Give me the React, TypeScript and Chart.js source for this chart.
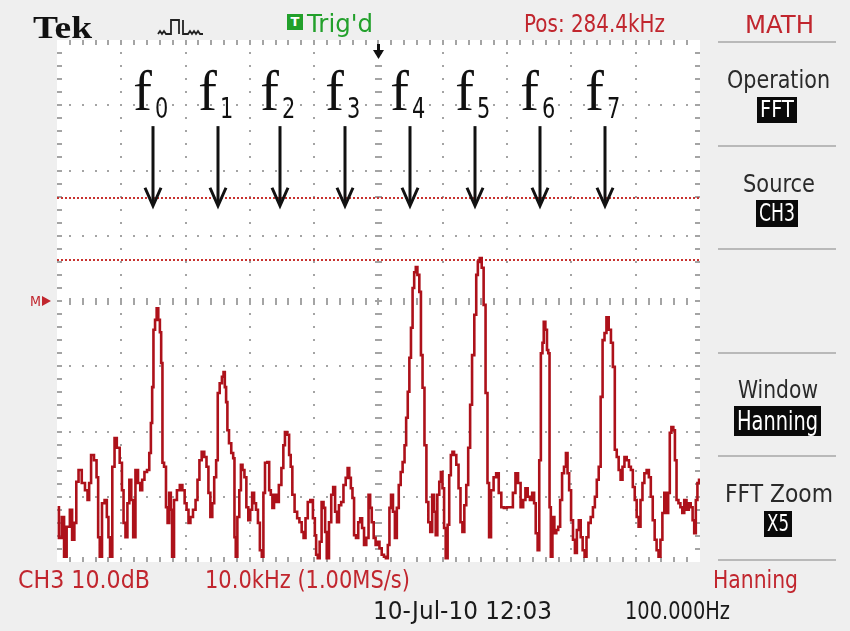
import React, { useEffect, useLayoutEffect, useRef } from 'react';
import { Chart, registerables } from 'chart.js';

Chart.register(...registerables);

// ---- display settings (Tek FFT screen) ----
const SPAN_START_KHZ = 234.4;
const KHZ_PER_DIV = 10;
const H_DIVS = 10;
const DB_PER_DIV = 10;
const V_DIVS = 8;
const MINOR_PER_DIV = 5;
const REF_DB = 0; // "M" reference level
const CENTER_KHZ = 284.4;

// ---- FFT trace: frequency (kHz) and level (dB rel. M) ----
const FREQ_KHZ = [
  234.5, 234.9, 235.4, 235.6, 236.2, 236.6, 236.9, 237.3, 237.5, 238.0,
  238.5, 239.0, 239.3, 239.5, 239.9, 240.4, 240.7, 240.9, 241.2, 241.6,
  242.0, 242.3, 242.5, 242.8, 243.2, 243.5, 243.9, 244.4, 244.6, 244.9,
  245.2, 245.5, 245.8, 246.1, 246.4, 246.8, 247.2, 247.5, 247.8, 248.2,
  248.6, 248.9, 249.1, 249.3, 249.5, 249.8, 250.0, 250.3, 250.5, 250.7,
  250.9, 251.2, 251.5, 251.7, 252.0, 252.2, 252.4, 252.8, 253.3, 253.7,
  254.1, 254.4, 254.7, 255.0, 255.3, 255.8, 256.1, 256.4, 256.7, 257.1,
  257.5, 257.8, 258.1, 258.4, 258.7, 259.0, 259.3, 259.5, 259.9, 260.2,
  260.4, 260.6, 260.8, 261.0, 261.3, 261.7, 261.9, 262.1, 262.3, 262.6,
  262.9, 263.1, 263.4, 263.7, 264.0, 264.3, 264.6, 264.9, 265.2, 265.5,
  265.8, 266.1, 266.4, 266.6, 266.9, 267.3, 267.5,
  267.8, 268.0, 268.3, 268.7, 269.1, 269.5, 269.7, 270.0, 270.4, 270.6,
  270.9, 271.1, 271.6, 271.9, 272.3, 272.6, 272.9, 273.2, 273.6, 274.0,
  274.4, 274.6, 274.8, 275.1, 275.4, 275.7, 276.0, 276.2, 276.5, 276.9,
  277.2, 277.5, 277.8, 278.1, 278.4, 278.8, 279.1, 279.5, 279.7, 280.0,
  280.2, 280.5, 280.7, 281.1, 281.4, 281.7, 282.0, 282.3, 282.7, 283.0,
  283.2, 283.5, 283.8, 284.1, 284.4, 284.7, 285.1, 285.4, 285.7, 286.0,
  286.2, 286.5, 286.8, 287.1, 287.4, 287.7, 288.0, 288.3, 288.6, 288.8,
  289.1, 289.3, 289.6, 289.8, 290.1, 290.3, 290.6, 290.9, 291.1, 291.4,
  291.7, 292.0, 292.3, 292.6, 292.9, 293.2, 293.4, 293.7, 294.0, 294.2,
  294.5, 294.7, 295.0, 295.3, 295.5, 295.8, 296.0, 296.3, 296.7, 297.0,
  297.3, 297.6, 297.9, 298.2, 298.5, 298.8, 299.1, 299.5, 299.7, 300.0,
  300.3, 300.6, 300.9,
  301.2, 301.5, 301.7, 302.1, 302.5, 302.9, 303.3, 303.7, 304.1, 304.6,
  305.1, 305.5, 305.9, 306.3, 306.7, 307.1, 307.4, 307.8, 308.1, 308.5,
  308.7, 309.0, 309.3, 309.5, 309.8, 310.0, 310.2, 310.5, 310.7, 310.9,
  311.1, 311.3, 311.6, 311.9, 312.2, 312.5, 312.8, 313.1, 313.4, 313.7,
  313.9, 314.2, 314.5, 314.8, 315.1, 315.4, 315.7, 316.0, 316.3, 316.6,
  316.9, 317.2, 317.6, 317.9, 318.2, 318.5, 318.8, 319.1, 319.4, 319.7,
  320.0, 320.4, 320.7, 321.0, 321.3, 321.6, 321.9, 322.2, 322.5, 322.8,
  323.2, 323.5, 323.8, 324.1, 324.4, 324.7, 325.0, 325.3, 325.6, 325.9,
  326.3, 326.6, 326.9, 327.2, 327.5, 327.8, 328.1, 328.4, 328.7, 329.0,
  329.3, 329.6, 329.8, 330.1, 330.4, 330.6, 330.9, 331.2, 331.5, 331.8,
  332.1, 332.5, 332.8, 333.1, 333.4, 333.6, 333.9, 334.1, 334.4,
];

const LEVEL_DB = [
  -31.6, -36.3, -33.1, -39.2, -34.6, -32.0, -36.6, -34.0, -27.7, -25.9,
  -27.9, -29.0, -30.5, -27.9, -23.6, -24.4, -27.0, -36.2, -39.2, -31.0,
  -30.5, -33.1, -36.2, -39.2, -25.4, -21.0, -22.5, -24.8, -29.0, -34.0,
  -36.2, -31.0, -27.4, -30.5, -36.2, -25.9, -27.9, -29.0, -27.4, -26.2,
  -25.9, -23.3, -18.7, -13.2, -4.4, -2.9, -1.1, -2.9, -4.8, -9.5,
  -24.8, -25.4, -31.6, -34.0, -29.4, -32.0, -39.2, -30.5, -29.0, -28.2,
  -29.0, -31.0, -32.0, -34.0, -33.1, -32.0, -30.5, -27.4, -24.4, -23.1,
  -23.9, -25.4, -29.4, -33.1, -31.0, -27.0, -24.4, -14.1, -12.6, -11.6,
  -10.9, -13.2, -15.5, -19.8, -21.8, -23.3, -24.1, -36.2, -39.2, -33.1,
  -29.0, -25.1, -25.9, -27.0, -31.6, -33.6, -32.0, -29.4, -31.0, -32.0,
  -34.0, -38.2, -39.2, -29.4, -24.8, -24.7, -29.0,
  -29.7, -31.7, -29.7, -30.8, -28.2, -25.6, -22.1, -20.1, -20.5, -23.6,
  -25.4, -29.7, -32.3, -33.3, -33.9, -35.4, -36.3, -33.3, -30.8, -30.5,
  -33.3, -35.9, -38.9, -39.4, -36.9, -30.8, -31.7, -35.4, -39.4, -33.9,
  -29.7, -28.5, -32.3, -33.9, -31.3, -30.8, -28.2, -27.1, -25.6, -27.1,
  -28.7, -30.2, -35.9, -36.3, -33.9, -33.3, -34.8, -37.4, -36.3, -29.7,
  -31.7, -33.9, -36.3, -37.4, -36.9, -37.9, -38.9, -39.2, -39.4, -37.4,
  -31.7, -29.7, -32.3, -36.3, -31.7, -28.2, -26.2, -24.7, -22.1, -17.9,
  -13.9, -8.7, -4.1, 2.0, 4.4, 5.2, 4.0, 1.4, -8.3, -13.3,
  -22.1, -30.8, -33.9, -35.4, -29.7, -32.3, -35.9, -29.7, -27.7, -26.2,
  -28.7, -34.8, -39.4, -34.3, -26.7, -23.6, -23.1, -23.6, -25.1, -28.7,
  -33.9, -35.4, -31.3, -28.2, -22.5, -15.9, -8.3, -2.1, 4.0, 6.0,
  6.6, 5.1, -0.6,
  -14.1, -27.9, -36.2, -29.0, -27.0, -26.4, -29.4, -31.6, -31.7, -31.6,
  -31.6, -29.4, -26.4, -27.9, -31.6, -30.5, -28.7, -30.0, -30.5, -29.4,
  -31.0, -35.6, -38.2, -24.4, -8.0, -6.4, -3.2, -4.4, -7.5, -8.0,
  -31.6, -39.2, -33.1, -35.6, -35.1, -34.6, -30.5, -26.4, -25.4, -23.3,
  -26.4, -29.0, -33.6, -36.6, -38.6, -35.1, -33.6, -36.2, -38.2, -39.2,
  -36.2, -34.0, -33.1, -31.6, -30.0, -27.4, -25.4, -14.7, -6.0, -4.9,
  -2.5, -4.4, -6.4, -10.1, -22.8, -23.9, -25.9, -27.4, -25.4, -23.9,
  -24.4, -25.4, -25.9, -28.5, -30.5, -33.1, -34.6, -30.5, -27.9, -26.4,
  -25.9, -27.0, -30.0, -33.6, -36.6, -38.2, -39.2, -36.6, -32.5, -29.4,
  -32.5, -29.4, -20.2, -19.3, -19.8, -24.4, -30.5, -31.0, -31.6, -32.5,
  -30.5, -32.0, -31.0, -31.6, -33.6, -35.6, -30.5, -27.9, -27.4,
];

// ---- annotations ----
const MARKER_KHZ = [249.3, 259.4, 269.1, 279.2, 289.3, 299.4, 309.5, 319.6];
const MARKER_SUBS = ['0', '1', '2', '3', '4', '5', '6', '7'];
const LABEL_BASE_DB = 29.3;
const ARROW_TOP_DB = 26.8;
const ARROW_TIP_DB = 14.6;
const CURSOR_DB = [15.8, 6.3];

const TRACE = '#ad111a';
const RED = '#c1262e';
const GREEN = '#22a02b';
const INK = '#2a2a2a';
const SANS = '"DejaVu Sans", "Liberation Sans", sans-serif';
const SERIF = '"Liberation Serif", "DejaVu Serif", serif';

const scopePlugin = {
  id: 'scope',
  beforeDatasetsDraw(chart: any) {
    const { ctx, chartArea: a } = chart;
    const xs = chart.scales.x;
    const ys = chart.scales.y;
    const xMin = xs.min;
    const yMin = ys.min;
    const xMinor = KHZ_PER_DIV / MINOR_PER_DIV;
    const yMinor = DB_PER_DIV / MINOR_PER_DIV;
    ctx.save();
    ctx.fillStyle = '#ffffff';
    ctx.fillRect(a.left, a.top, a.right - a.left, a.bottom - a.top);
    ctx.fillStyle = '#a4a4a4';
    for (let i = 1; i < H_DIVS; i++) {
      const px = Math.round(xs.getPixelForValue(xMin + i * KHZ_PER_DIV));
      for (let j = 1; j < V_DIVS * MINOR_PER_DIV; j++) {
        const py = Math.round(ys.getPixelForValue(yMin + j * yMinor));
        if (i === H_DIVS / 2) ctx.fillRect(px - 3, py - 1, 7, 2);
        else ctx.fillRect(px - 1, py - 1, 2, 2);
      }
    }
    for (let j = 1; j < V_DIVS; j++) {
      const py = Math.round(ys.getPixelForValue(yMin + j * DB_PER_DIV));
      for (let i = 1; i < H_DIVS * MINOR_PER_DIV; i++) {
        const px = Math.round(xs.getPixelForValue(xMin + i * xMinor));
        if (j === V_DIVS / 2) ctx.fillRect(px - 1, py - 3, 2, 7);
        else ctx.fillRect(px - 1, py - 1, 2, 2);
      }
    }
    for (let j = 1; j < V_DIVS * MINOR_PER_DIV; j++) {
      const py = Math.round(ys.getPixelForValue(yMin + j * yMinor));
      ctx.fillRect(a.left, py - 1, 5, 2);
      ctx.fillRect(a.right - 5, py - 1, 5, 2);
    }
    for (let i = 1; i < H_DIVS * MINOR_PER_DIV; i++) {
      const px = Math.round(xs.getPixelForValue(xMin + i * xMinor));
      ctx.fillRect(px - 1, a.top, 2, 5);
      ctx.fillRect(px - 1, a.bottom - 5, 2, 5);
    }
    ctx.strokeStyle = '#c8322f';
    ctx.lineWidth = 2;
    ctx.setLineDash([2, 2]);
    for (const c of CURSOR_DB) {
      const py = Math.round(ys.getPixelForValue(c));
      ctx.beginPath();
      ctx.moveTo(a.left, py);
      ctx.lineTo(a.right, py);
      ctx.stroke();
    }
    ctx.restore();
  },
  afterDatasetsDraw(chart: any) {
    const { ctx, chartArea: a } = chart;
    const xs = chart.scales.x;
    const ys = chart.scales.y;
    ctx.save();
    const cx = Math.round(xs.getPixelForValue(CENTER_KHZ));
    ctx.fillStyle = '#111';
    ctx.fillRect(cx - 1, a.top + 4, 3, 8);
    ctx.beginPath();
    ctx.moveTo(cx - 5, a.top + 10);
    ctx.lineTo(cx + 6, a.top + 10);
    ctx.lineTo(cx + 0.5, a.top + 19);
    ctx.closePath();
    ctx.fill();
    const my = ys.getPixelForValue(REF_DB);
    ctx.fillStyle = RED;
    ctx.beginPath();
    ctx.moveTo(a.left - 15, my - 5);
    ctx.lineTo(a.left - 6, my);
    ctx.lineTo(a.left - 15, my + 5);
    ctx.closePath();
    ctx.fill();
    const base = ys.getPixelForValue(LABEL_BASE_DB);
    const top = ys.getPixelForValue(ARROW_TOP_DB);
    const tip = ys.getPixelForValue(ARROW_TIP_DB);
    ctx.fillStyle = '#111';
    ctx.strokeStyle = '#111';
    ctx.lineWidth = 3;
    ctx.setLineDash([]);
    MARKER_KHZ.forEach((f, k) => {
      const px = Math.round(xs.getPixelForValue(f));
      ctx.font = `56px ${SERIF}`;
      ctx.textAlign = 'right';
      ctx.textBaseline = 'alphabetic';
      ctx.fillText('f', px - 1, base);
      ctx.save();
      ctx.translate(px + 2, base + 8);
      ctx.scale(0.72, 1);
      ctx.font = `29px ${SANS}`;
      ctx.textAlign = 'left';
      ctx.fillText(MARKER_SUBS[k], 0, 0);
      ctx.restore();
      ctx.beginPath();
      ctx.moveTo(px, top);
      ctx.lineTo(px, tip - 2);
      ctx.stroke();
      ctx.beginPath();
      ctx.moveTo(px - 8, tip - 18);
      ctx.lineTo(px, tip);
      ctx.lineTo(px + 8, tip - 18);
      ctx.stroke();
    });
    ctx.restore();
  },
};

type FitProps = {
  x0: number;
  x1: number;
  base: number;
  size: number;
  color: string;
  children: React.ReactNode;
  family?: string;
  weight?: number;
};

// text squeezed/stretched to span [x0, x1] with its baseline at `base`
function Fit({ x0, x1, base, size, color, children, family = SANS, weight = 400 }: FitProps) {
  const ref = useRef<HTMLSpanElement>(null);
  useLayoutEffect(() => {
    const el = ref.current;
    if (!el) return;
    el.style.transform = 'none';
    const w = el.getBoundingClientRect().width;
    if (w > 0) el.style.transform = `scaleX(${(x1 - x0) / w})`;
  }, [x0, x1]);
  const k = family === SERIF ? 0.8375 : 0.846;
  return (
    <span
      ref={ref}
      style={{
        position: 'absolute',
        left: x0,
        top: base - k * size,
        fontSize: size,
        lineHeight: `${size}px`,
        color,
        fontFamily: family,
        fontWeight: weight,
        whiteSpace: 'nowrap',
        transformOrigin: 'left',
      }}
    >
      {children}
    </span>
  );
}

function InvBox({ x, y, w, h, children }: { x: number; y: number; w: number; h: number; children: React.ReactNode }) {
  return (
    <div style={{ position: 'absolute', left: x, top: y, width: w, height: h, background: '#0a0a0a' }}>
      <Fit x0={3} x1={w - 3} base={h - 6} size={h - 3} color="#ffffff">{children}</Fit>
    </div>
  );
}

const SEPARATORS = [42, 146, 249, 353, 456, 560];

export default function App() {
  const ref = useRef<HTMLCanvasElement>(null);

  useEffect(() => {
    if (!ref.current) return;
    const points = FREQ_KHZ.map((f, i) => ({ x: f, y: LEVEL_DB[i] }));
    const chart = new Chart(ref.current, {
      type: 'line',
      data: {
        datasets: [
          {
            data: points,
            borderColor: TRACE,
            borderWidth: 2.6,
            pointRadius: 0,
            stepped: 'middle',
            fill: false,
          },
        ],
      },
      options: {
        animation: false,
        responsive: false,
        events: [],
        layout: { padding: { left: 57, top: 40, right: 150, bottom: 69 } },
        plugins: { legend: { display: false }, tooltip: { enabled: false } },
        scales: {
          x: {
            type: 'linear',
            display: false,
            min: SPAN_START_KHZ,
            max: SPAN_START_KHZ + H_DIVS * KHZ_PER_DIV,
          },
          y: {
            type: 'linear',
            display: false,
            min: REF_DB - (V_DIVS / 2) * DB_PER_DIV,
            max: REF_DB + (V_DIVS / 2) * DB_PER_DIV,
          },
        },
      },
      plugins: [scopePlugin],
    } as any);
    return () => chart.destroy();
  }, []);

  return (
    <div
      style={{
        position: 'absolute',
        left: 0,
        top: 0,
        width: 850,
        height: 631,
        background: '#efefef',
        overflow: 'hidden',
        fontFamily: SANS,
      }}
    >
      <canvas ref={ref} width={850} height={631} style={{ position: 'absolute', left: 0, top: 0, width: 850, height: 631 }} />

      {/* header */}
      <Fit x0={33} x1={92} base={38} size={32} color="#111" family={SERIF} weight={700}>Tek</Fit>
      <svg style={{ position: 'absolute', left: 157, top: 17 }} width={50} height={20}>
        <path
          d="M1 17 L3 14 L5 17 L7 14 L9 17 L14 17 L14 3 L22 3 L22 17 M26 3 L26 17 L31 17 L33 14 L35 17 L37 14 L39 17 L41 14 L43 17 L46 17"
          stroke="#222"
          strokeWidth={1.8}
          fill="none"
        />
      </svg>
      <div
        style={{
          position: 'absolute',
          left: 287,
          top: 14,
          width: 16,
          height: 16,
          background: GREEN,
          color: '#fff',
          fontSize: 13,
          fontWeight: 700,
          lineHeight: '16px',
          textAlign: 'center',
          fontFamily: SANS,
        }}
      >
        T
      </div>
      <Fit x0={307} x1={373} base={32} size={25} color={GREEN}>Trig'd</Fit>
      <Fit x0={524} x1={665} base={32} size={25} color={RED}>Pos: 284.4kHz</Fit>
      <Fit x0={745} x1={814} base={33} size={25} color={RED}>MATH</Fit>

      {/* M marker */}
      <Fit x0={30} x1={41} base={306} size={14} color={RED}>M</Fit>

      {/* right menu */}
      {SEPARATORS.map((y) => (
        <div key={y} style={{ position: 'absolute', left: 718, top: y - 1, width: 118, height: 2, background: '#b9b9b9' }} />
      ))}
      <Fit x0={727} x1={830} base={88} size={25} color={INK}>Operation</Fit>
      <InvBox x={757} y={97} w={40} h={26}>FFT</InvBox>
      <Fit x0={743} x1={815} base={192} size={25} color={INK}>Source</Fit>
      <InvBox x={756} y={200} w={42} h={27}>CH3</InvBox>
      <Fit x0={738} x1={818} base={398} size={25} color={INK}>Window</Fit>
      <InvBox x={734} y={406} w={87} h={30}>Hanning</InvBox>
      <Fit x0={725} x1={833} base={502} size={25} color={INK}>FFT Zoom</Fit>
      <InvBox x={764} y={511} w={28} h={26}>X5</InvBox>

      {/* bottom status */}
      <Fit x0={18} x1={150} base={588} size={25} color={RED}>CH3 10.0dB</Fit>
      <Fit x0={205} x1={410} base={588} size={25} color={RED}>10.0kHz (1.00MS/s)</Fit>
      <Fit x0={713} x1={798} base={588} size={25} color={RED}>Hanning</Fit>
      <Fit x0={373} x1={552} base={619} size={25} color="#1a1a1a">10-Jul-10 12:03</Fit>
      <Fit x0={625} x1={730} base={619} size={25} color="#1a1a1a">100.000Hz</Fit>
    </div>
  );
}
